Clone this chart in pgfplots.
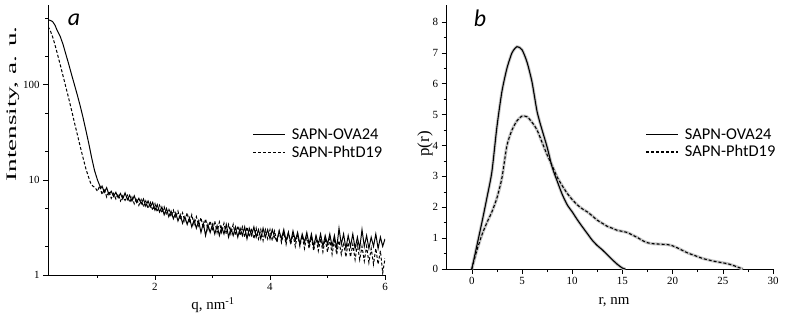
\documentclass[border=0pt]{standalone}
\usepackage{fontspec}
\setmainfont{Liberation Serif}
\newfontfamily\calib{Carlito}
\usepackage{pgfplots}
\pgfplotsset{compat=1.18}
\begin{document}
\begin{tikzpicture}[x=1bp,y=1bp]
\useasboundingbox (0,0) rectangle (785,317);
\pgfplotsset{
  common/.style={
    scale only axis,
    axis x line*=bottom, axis y line*=left,
    axis line style={black, line width=0.7bp},
    tick align=outside,
    major tick length=5bp, minor tick length=3bp,
    tick style={black, line width=0.6bp},
    tick label style={font=\fontsize{11}{11}\selectfont},
    /pgf/number format/assume math mode=true,
    legend cell align=left,
    legend image code/.code={\draw[##1] (0bp,0bp) -- (32bp,0bp); \path (37bp,0bp);},
    legend style={draw=none, fill=none, anchor=north west,
      font=\calib\fontsize{16.5}{17.5}\selectfont, row sep=2.5bp,
      nodes={inner sep=1.2bp}},
  }
}
% ---------------- panel a ----------------
\begin{axis}[common,
  at={(48bp,42bp)}, anchor=south west,
  width=337bp, height=270bp,
  ymode=log, xmin=0.14, xmax=6, ymin=1, ymax=690,
  xtick={2,4,6}, minor xtick={1,3,5},
  ytick={1,10,100}, yticklabels={1,10,100},
  minor ytick={2,5,20,50,200,500},
  legend style={at={(0.598,0.555)}},
]
\addplot[black, line width=1.0bp] coordinates {
(0.14,480)(0.18,476)(0.22,462)(0.26,425)(0.30,372)(0.35,325)(0.40,268)(0.45,210)(0.50,165)(0.55,128)(0.60,100)(0.65,78)(0.70,60)(0.75,45)(0.80,33)(0.85,24)(0.90,17)(0.95,12.5)(1.00,10)(1.03,9)(1.06,8.2)
(1.08,8.6)(1.12,7.4)(1.16,8.3)(1.20,7.0)(1.24,7.6)(1.28,6.7)(1.32,7.4)(1.36,6.5)(1.40,7.2)(1.44,6.3)(1.48,7.3)(1.52,6.2)(1.56,6.9)(1.60,6.0)(1.64,6.8)(1.68,5.8)(1.72,6.4)(1.76,5.6)(1.80,6.3)(1.84,5.3)(1.88,6.0)(1.92,5.2)(1.96,5.8)(2.00,4.8)
(2.04,5.5)(2.08,4.6)(2.12,5.2)(2.16,4.3)(2.20,5.0)(2.24,4.1)(2.28,4.7)(2.32,3.9)(2.36,4.5)(2.40,3.7)(2.44,4.3)(2.48,3.5)(2.52,4.1)(2.56,3.4)(2.60,4.0)(2.64,3.2)(2.68,3.8)(2.72,3.1)(2.76,3.7)(2.80,2.8)(2.84,3.5)(2.88,2.6)(2.92,3.4)(2.96,2.8)(3.00,3.4)
(3.04,2.7)(3.08,3.3)(3.12,2.6)(3.16,3.2)(3.20,2.7)(3.24,3.4)(3.28,2.5)(3.32,3.1)(3.36,2.6)(3.40,3.2)(3.44,2.5)(3.48,3.1)(3.52,2.6)(3.56,3.2)(3.60,2.4)(3.64,3.1)(3.68,2.6)(3.72,3.2)(3.76,2.5)(3.80,3.0)(3.84,2.4)(3.88,3.1)(3.92,2.5)(3.96,3.0)(4.00,2.4)
(4.04,3.0)(4.08,2.5)(4.12,2.3)(4.16,2.9)(4.20,2.4)(4.24,3.0)(4.28,2.3)(4.32,2.8)(4.36,2.2)(4.40,2.9)(4.44,2.3)(4.48,2.8)(4.52,2.1)(4.56,2.7)(4.60,2.2)(4.64,2.8)(4.68,2.1)(4.72,2.7)(4.76,2.0)(4.80,2.6)(4.84,2.1)(4.88,2.7)(4.92,2.0)(4.96,2.6)(5.00,2.1)
(5.04,2.7)(5.08,2.0)(5.12,2.6)(5.16,1.9)(5.20,3.1)(5.24,2.1)(5.28,2.7)(5.32,1.9)(5.36,2.6)(5.40,2.0)(5.44,2.7)(5.48,1.9)(5.52,2.5)(5.56,1.9)(5.60,3.0)(5.64,2.0)(5.68,2.6)(5.72,1.9)(5.76,2.5)(5.80,2.0)(5.84,2.7)(5.88,1.9)(5.92,2.5)(5.96,2.0)(6.00,2.4)
};
\addlegendentry{SAPN-OVA24}
\addplot[black, line width=1.0bp, dash pattern=on 3bp off 2bp] coordinates {
(0.14,410)(0.18,370)(0.22,320)(0.26,265)(0.30,215)(0.35,165)(0.40,125)(0.45,95)(0.50,72)(0.55,54)(0.60,40)(0.65,30)(0.70,22.5)(0.75,17)(0.80,13)(0.85,10.5)(0.88,9.3)(0.92,8.6)(0.96,8.3)
(1.00,7.6)(1.04,8.7)(1.08,7.0)(1.12,8.0)(1.16,6.6)(1.20,7.6)(1.24,6.4)(1.28,7.2)(1.32,6.3)(1.36,7.1)(1.40,6.0)(1.44,6.8)(1.48,6.1)(1.52,6.9)(1.56,5.8)(1.60,6.6)(1.64,5.6)(1.68,6.4)(1.72,5.4)(1.76,6.2)(1.80,5.2)(1.84,6.0)(1.88,5.0)(1.92,5.8)(1.96,4.8)
(2.00,5.6)(2.04,4.6)(2.08,5.4)(2.12,4.5)(2.16,5.2)(2.20,4.3)(2.24,5.0)(2.28,4.1)(2.32,4.8)(2.36,4.0)(2.40,4.7)(2.44,3.8)(2.48,4.5)(2.52,3.7)(2.56,4.5)(2.60,3.5)(2.64,4.3)(2.68,3.4)(2.72,4.1)(2.76,3.3)(2.80,4.0)(2.84,3.1)(2.88,3.9)(2.92,3.0)(2.96,3.7)
(3.00,2.9)(3.04,3.7)(3.08,2.8)(3.12,3.6)(3.16,2.8)(3.20,3.5)(3.24,2.7)(3.28,3.4)(3.32,2.7)(3.36,3.4)(3.40,2.6)(3.44,3.3)(3.48,2.6)(3.52,3.2)(3.56,2.5)(3.60,3.2)(3.64,2.5)(3.68,3.1)(3.72,2.4)(3.76,3.1)(3.80,2.4)(3.84,3.0)(3.88,2.3)(3.92,3.0)(3.96,2.4)
(4.00,3.0)(4.04,2.3)(4.08,2.9)(4.12,2.2)(4.16,2.9)(4.20,2.2)(4.24,2.8)(4.28,2.1)(4.32,2.8)(4.36,2.1)(4.40,2.7)(4.44,2.0)(4.48,2.7)(4.52,2.0)(4.56,2.6)(4.60,1.9)(4.64,2.6)(4.68,1.9)(4.72,2.5)(4.76,1.8)(4.80,2.5)(4.84,1.8)(4.88,2.4)(4.92,1.75)(4.96,2.4)
(5.00,1.75)(5.04,2.4)(5.08,1.65)(5.12,2.3)(5.16,1.65)(5.20,2.3)(5.24,1.65)(5.28,2.2)(5.32,1.55)(5.36,2.2)(5.40,1.55)(5.44,2.1)(5.48,1.45)(5.52,2.1)(5.56,1.45)(5.60,2.0)(5.64,1.4)(5.68,2.0)(5.72,1.35)(5.76,1.9)(5.80,1.3)(5.84,1.9)(5.88,1.3)(5.92,1.8)(5.96,1.05)(6.00,1.5)
};
\addlegendentry{SAPN-PhtD19}
\end{axis}
% ---------------- panel b ----------------
\begin{axis}[common,
  at={(446.7bp,48bp)}, anchor=south west,
  width=326.3bp, height=264bp,
  xmin=-2.5, xmax=30, ymin=0, ymax=8.55,
  xtick={0,5,...,30}, minor x tick num=1,
  ytick={0,1,...,8}, minor y tick num=1,
  legend style={at={(0.600,0.545)}},
]
\addplot[gray!45, line width=3bp, smooth, tension=0.4, forget plot] coordinates {
(0,0)(0.5,0.75)(1.0,1.5)(1.5,2.3)(2.0,3.15)(2.5,4.6)(3.0,5.75)(3.5,6.5)(4.0,7.0)(4.5,7.2)(5.0,7.1)(5.5,6.7)(6.0,6.05)(6.5,5.1)(7.0,4.5)(7.5,3.95)(8.0,3.3)(8.5,2.85)(9.0,2.42)(9.5,2.08)(10.0,1.85)(10.5,1.6)(11.0,1.37)(11.5,1.15)(12.0,0.93)(12.5,0.76)(13.0,0.62)(13.5,0.46)(14.0,0.3)(14.5,0.15)(15.0,0.03)(15.3,0)
};
\addplot[gray!45, line width=3bp, smooth, tension=0.4, forget plot] coordinates {
(0,0)(0.5,0.6)(1.0,1.1)(1.5,1.5)(2.0,1.85)(2.5,2.3)(3.0,2.95)(3.5,4.0)(4.0,4.5)(4.5,4.8)(5.0,4.95)(5.5,4.93)(6.0,4.75)(6.5,4.5)(7.0,4.1)(7.5,3.7)(8.0,3.35)(8.5,2.98)(9.0,2.7)(9.5,2.45)(10.0,2.25)(10.5,2.08)(11.0,1.95)(11.5,1.85)(12.0,1.72)(12.5,1.58)(13.0,1.48)(13.5,1.38)(14.0,1.32)(14.5,1.25)(15.0,1.22)(15.5,1.18)(16.0,1.1)(16.5,1.02)(17.0,0.92)(17.5,0.85)(18.0,0.82)(18.5,0.81)(19.0,0.8)(19.5,0.79)(20.0,0.75)(20.5,0.68)(21.0,0.6)(21.5,0.52)(22.0,0.46)(22.5,0.4)(23.0,0.34)(23.5,0.3)(24.0,0.26)(24.5,0.23)(25.0,0.2)(25.5,0.17)(26.0,0.12)(26.5,0.06)(27.0,0)
};
\addplot[black, line width=1.1bp, smooth, tension=0.4] coordinates {
(0,0)(0.5,0.75)(1.0,1.5)(1.5,2.3)(2.0,3.15)(2.5,4.6)(3.0,5.75)(3.5,6.5)(4.0,7.0)(4.5,7.2)(5.0,7.1)(5.5,6.7)(6.0,6.05)(6.5,5.1)(7.0,4.5)(7.5,3.95)(8.0,3.3)(8.5,2.85)(9.0,2.42)(9.5,2.08)(10.0,1.85)(10.5,1.6)(11.0,1.37)(11.5,1.15)(12.0,0.93)(12.5,0.76)(13.0,0.62)(13.5,0.46)(14.0,0.3)(14.5,0.15)(15.0,0.03)(15.3,0)
};
\addlegendentry{SAPN-OVA24}
\addplot[black, line width=1.1bp, smooth, tension=0.4, dash pattern=on 3bp off 2bp] coordinates {
(0,0)(0.5,0.6)(1.0,1.1)(1.5,1.5)(2.0,1.85)(2.5,2.3)(3.0,2.95)(3.5,4.0)(4.0,4.5)(4.5,4.8)(5.0,4.95)(5.5,4.93)(6.0,4.75)(6.5,4.5)(7.0,4.1)(7.5,3.7)(8.0,3.35)(8.5,2.98)(9.0,2.7)(9.5,2.45)(10.0,2.25)(10.5,2.08)(11.0,1.95)(11.5,1.85)(12.0,1.72)(12.5,1.58)(13.0,1.48)(13.5,1.38)(14.0,1.32)(14.5,1.25)(15.0,1.22)(15.5,1.18)(16.0,1.1)(16.5,1.02)(17.0,0.92)(17.5,0.85)(18.0,0.82)(18.5,0.81)(19.0,0.8)(19.5,0.79)(20.0,0.75)(20.5,0.68)(21.0,0.6)(21.5,0.52)(22.0,0.46)(22.5,0.4)(23.0,0.34)(23.5,0.3)(24.0,0.26)(24.5,0.23)(25.0,0.2)(25.5,0.17)(26.0,0.12)(26.5,0.06)(27.0,0)
};
\addlegendentry{SAPN-PhtD19}
\end{axis}
% ---------------- labels ----------------
\node[font=\calib\itshape\fontsize{24}{24}\selectfont] at (74bp,297bp) {a};
\node[font=\calib\itshape\fontsize{24}{24}\selectfont] at (480bp,299bp) {b};
\node[rotate=90, font=\fontsize{14.5}{15}\selectfont] at (13bp,213bp) {\scalebox{1.88}[1]{Intensity, a. u.}};
\node[font=\fontsize{15}{15}\selectfont] at (213bp,12bp) {q, nm\textsuperscript{-1}};
\node[font=\fontsize{15}{15}\selectfont] at (614bp,15bp) {r, nm};
\node[rotate=90, font=\fontsize{17}{17}\selectfont] at (425bp,173bp) {p(r)};
\end{tikzpicture}
\end{document}
